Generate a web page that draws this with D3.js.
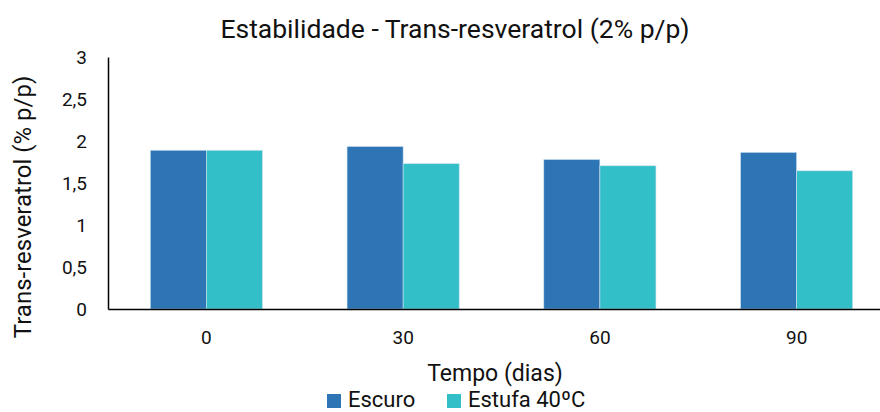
<!DOCTYPE html>
<html>
<head>
<meta charset="utf-8">
<script src="https://cdn.jsdelivr.net/npm/d3@7"></script>
<style>
  html, body { margin: 0; padding: 0; background: #fff; }
  svg { display: block; font-family: Roboto, "Noto Sans", sans-serif; }
</style>
</head>
<body>
<svg id="chart" width="880" height="412"></svg>
<script>
// Trans-resveratrol content (% p/p) over storage time
const categories = ["0", "30", "60", "90"];
const seriesNames = ["Escuro", "Estufa 40ºC"];
const escuro = [1.89, 1.935, 1.78, 1.865];
const estufa = [1.89, 1.73, 1.705, 1.645];
const yTicks = [0, 0.5, 1, 1.5, 2, 2.5, 3];
const colors = ["#2E75B6", "#33BFC8"];

const svg = d3.select("#chart");
const margin = { left: 108, top: 57, right: -15, bottom: 103 };
const W = 880, H = 412;
const innerW = W - margin.left - margin.right;
const innerH = H - margin.top - margin.bottom;

const g = svg.append("g").attr("transform", `translate(${margin.left},${margin.top})`);

const x = d3.scaleBand().domain(categories).range([0, innerW]).paddingInner(0.43).paddingOuter(0.215);
const x1 = d3.scaleBand().domain(seriesNames).range([0, x.bandwidth()]);
const y = d3.scaleLinear().domain([0, 3]).range([innerH, 0]);

const rows = categories.map((c, i) => ({ cat: c, values: [escuro[i], estufa[i]] }));

// bars
const groups = g.selectAll("g.grp").data(rows).join("g")
  .attr("transform", d => `translate(${x(d.cat)},0)`);
groups.selectAll("rect").data(d => d.values.map((v, k) => ({ v, k })))
  .join("rect")
  .attr("x", d => x1(seriesNames[d.k]))
  .attr("width", x1.bandwidth())
  .attr("y", d => y(d.v))
  .attr("height", d => innerH - y(d.v))
  .attr("fill", d => colors[d.k])
  .attr("stroke", "#cfe3f0")
  .attr("stroke-width", 0.6);

// y axis
const yAxis = g.append("g").call(
  d3.axisLeft(y).tickValues(yTicks).tickSize(0).tickPadding(21)
    .tickFormat(d => String(d).replace(".", ","))
);
yAxis.select(".domain").attr("stroke", "#000").attr("stroke-width", 1.5);
yAxis.selectAll("text").attr("font-size", 19).attr("fill", "#111").attr("font-family", "Roboto, sans-serif");

// x axis
const xAxis = g.append("g").attr("transform", `translate(0,${innerH})`).call(
  d3.axisBottom(x).tickSize(0).tickPadding(22)
);
xAxis.select(".domain").attr("stroke", "#000").attr("stroke-width", 1.5);
xAxis.selectAll("text").attr("font-size", 19).attr("fill", "#111").attr("font-family", "Roboto, sans-serif");

// title
svg.append("text").attr("x", 455).attr("y", 38).attr("text-anchor", "middle")
  .attr("font-size", 26.5).attr("fill", "#111").text("Estabilidade - Trans-resveratrol (2% p/p)");

// axis titles
svg.append("text").attr("transform", "translate(31,207) rotate(-90)").attr("text-anchor", "middle")
  .attr("font-size", 24).attr("fill", "#111").text("Trans-resveratrol (% p/p)");
svg.append("text").attr("x", 495).attr("y", 381).attr("text-anchor", "middle")
  .attr("font-size", 23).attr("fill", "#111").text("Tempo (dias)");

// legend
const legendItems = [{ name: seriesNames[0], sx: 327, tx: 348 }, { name: seriesNames[1], sx: 447, tx: 468 }];
const lg = svg.append("g");
lg.selectAll("rect").data(legendItems).join("rect")
  .attr("x", d => d.sx).attr("y", 394).attr("width", 14).attr("height", 14)
  .attr("fill", (d, i) => colors[i]);
lg.selectAll("text").data(legendItems).join("text")
  .attr("x", d => d.tx).attr("y", 407).attr("font-size", 22).attr("fill", "#111").text(d => d.name);
</script>
</body>
</html>
